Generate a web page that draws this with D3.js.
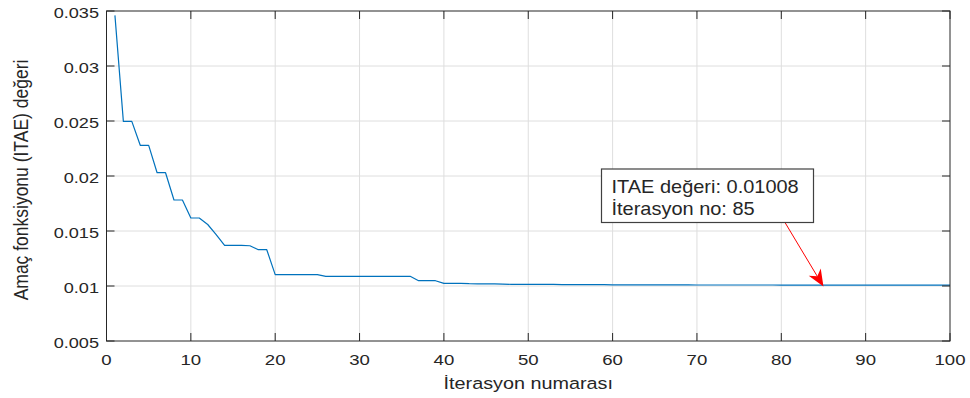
<!DOCTYPE html>
<html>
<head>
<meta charset="utf-8">
<script src="https://cdn.jsdelivr.net/npm/d3@7"></script>
<style>
  body { margin: 0; background: #fff; }
  svg text { font-family: "Liberation Sans", Arial, sans-serif; fill: #262626; }
</style>
</head>
<body>
<div id="chart"></div>
<script>
// chart data
var xTickValues = [0, 10, 20, 30, 40, 50, 60, 70, 80, 90, 100];
var yTickValues = [0.005, 0.01, 0.015, 0.02, 0.025, 0.03, 0.035];
var yTickLabels = ["0.005", "0.01", "0.015", "0.02", "0.025", "0.03", "0.035"];

// ITAE value per iteration, iteration 1 .. 100
var itaeValues = [
  0.0346, 0.02497, 0.02497, 0.02279, 0.02279, 0.0203, 0.0203, 0.01782, 0.01782, 0.01618,
  0.01618, 0.01559, 0.01468, 0.0137, 0.0137, 0.0137, 0.01366, 0.0133, 0.0133, 0.01103,
  0.01103, 0.01103, 0.01103, 0.01103, 0.01103, 0.01088, 0.01088, 0.01088, 0.01088, 0.01088,
  0.01088, 0.01088, 0.01088, 0.01088, 0.01088, 0.01088, 0.01048, 0.01048, 0.01048, 0.01024,
  0.01024, 0.01024, 0.01021, 0.0102, 0.0102, 0.01019, 0.01017, 0.01015, 0.01014, 0.01014,
  0.01014, 0.01014, 0.01014, 0.01012, 0.01012, 0.01012, 0.01012, 0.01012, 0.01012, 0.0101,
  0.0101, 0.0101, 0.0101, 0.0101, 0.0101, 0.0101, 0.0101, 0.0101, 0.0101, 0.01009,
  0.01009, 0.01009, 0.01009, 0.01009, 0.01009, 0.01009, 0.01009, 0.01009, 0.01009, 0.01008,
  0.01008, 0.01008, 0.01008, 0.01008, 0.01008, 0.01008, 0.01008, 0.01008, 0.01008, 0.01008,
  0.01008, 0.01008, 0.01008, 0.01008, 0.01008, 0.01008, 0.01008, 0.01008, 0.01008, 0.01008
];

var xLabel = "İterasyon numarası";
var yLabel = "Amaç fonksiyonu (ITAE) değeri";
var calloutLines = ["ITAE değeri: 0.01008", "İterasyon no: 85"];
var calloutIteration = 85;

// layout
var W = 970, H = 398;
var plot = { left: 106.5, right: 950, top: 11, bottom: 341 };
var box = { x: 601.5, y: 169, w: 212, h: 53.5 };
var tickLen = 8;
var lineColor = "#0072BD";
var axisColor = "#262626";
var gridColor = "#dedede";

var svg = d3.select("#chart").append("svg")
    .attr("width", W)
    .attr("height", H)
    .style("background-color", "white");

var x = d3.scaleLinear().domain([0, 100]).range([plot.left, plot.right]);
var y = d3.scaleLinear().domain([0.005, 0.035]).range([plot.bottom, plot.top]);

/** Adds a horizontally stretched text (the reference picture is wider than tall). */
function stretchedText(g, t, px, py, size, sx, anchor, rotate) {
    var tr = "translate(" + px + "," + py + ") scale(" + sx + ",1)";
    if (rotate) tr += " rotate(" + rotate + ")";
    return g.append("text")
        .attr("transform", tr)
        .attr("text-anchor", anchor)
        .style("font-size", size + "px")
        .text(t);
}

// grid
var grid = svg.append("g");
grid.selectAll(".gx").data(xTickValues.slice(1, -1)).enter().append("line")
    .attr("x1", function(d) { return x(d); })
    .attr("x2", function(d) { return x(d); })
    .attr("y1", plot.top)
    .attr("y2", plot.bottom)
    .attr("stroke", gridColor)
    .attr("stroke-width", 1);
grid.selectAll(".gy").data(yTickValues.slice(1, -1)).enter().append("line")
    .attr("x1", plot.left)
    .attr("x2", plot.right)
    .attr("y1", function(d) { return y(d); })
    .attr("y2", function(d) { return y(d); })
    .attr("stroke", gridColor)
    .attr("stroke-width", 1);

// data line
var line = d3.line()
    .x(function(d, i) { return x(i + 1); })
    .y(function(d) { return y(d); });
svg.append("path")
    .datum(itaeValues)
    .attr("d", line)
    .attr("fill", "none")
    .attr("stroke", lineColor)
    .attr("stroke-width", 1.2)
    .attr("stroke-linejoin", "round");

// axes box with inward ticks on all four sides
var axes = svg.append("g");
axes.append("rect")
    .attr("x", plot.left)
    .attr("y", plot.top)
    .attr("width", plot.right - plot.left)
    .attr("height", plot.bottom - plot.top)
    .attr("fill", "none")
    .attr("stroke", axisColor)
    .attr("stroke-width", 1);

xTickValues.forEach(function(v) {
    axes.append("line").attr("x1", x(v)).attr("x2", x(v))
        .attr("y1", plot.bottom).attr("y2", plot.bottom - tickLen)
        .attr("stroke", axisColor);
    axes.append("line").attr("x1", x(v)).attr("x2", x(v))
        .attr("y1", plot.top).attr("y2", plot.top + tickLen)
        .attr("stroke", axisColor);
    stretchedText(axes, String(v), x(v), 364.5, 15.5, 1.2, "middle");
});

yTickValues.forEach(function(v, i) {
    axes.append("line").attr("x1", plot.left).attr("x2", plot.left + tickLen)
        .attr("y1", y(v)).attr("y2", y(v))
        .attr("stroke", axisColor);
    axes.append("line").attr("x1", plot.right).attr("x2", plot.right - tickLen)
        .attr("y1", y(v)).attr("y2", y(v))
        .attr("stroke", axisColor);
    stretchedText(axes, yTickLabels[i], 99, y(v) + 7, 15.5, 1.17, "end");
});

// axis labels
stretchedText(svg, xLabel, (plot.left + plot.right) / 2, 388.5, 16.5, 1.2, "middle");
stretchedText(svg, yLabel, 28, (plot.top + plot.bottom) / 2 + 4, 17.5, 1.18, "middle", -90);

// callout with arrow
var tipX = x(calloutIteration), tipY = y(itaeValues[calloutIteration - 1]) + 1.5;
var tailX = 785, tailY = box.y + box.h;
var dx = tipX - tailX, dy = tipY - tailY;
var len = Math.sqrt(dx * dx + dy * dy);
var ux = dx / len, uy = dy / len;
var headLen = 17, headW = 7, headBack = 12;
var bx = tipX - ux * headLen, by = tipY - uy * headLen;

svg.append("line")
    .attr("x1", tailX).attr("y1", tailY)
    .attr("x2", tipX - ux * headBack).attr("y2", tipY - uy * headBack)
    .attr("stroke", "#ff0000")
    .attr("stroke-width", 1);
svg.append("path")
    .attr("d", "M" + tipX + "," + tipY +
        "L" + (bx - uy * headW) + "," + (by + ux * headW) +
        "L" + (tipX - ux * headBack) + "," + (tipY - uy * headBack) +
        "L" + (bx + uy * headW) + "," + (by - ux * headW) + "Z")
    .attr("fill", "#ff0000");

var callout = svg.append("g");
callout.append("rect")
    .attr("x", box.x)
    .attr("y", box.y)
    .attr("width", box.w)
    .attr("height", box.h)
    .attr("fill", "white")
    .attr("stroke", "#404040")
    .attr("stroke-width", 1.2);
calloutLines.forEach(function(t, i) {
    stretchedText(callout, t, box.x + 10, box.y + 23.5 + i * 22.5, 18, 1.11, "start");
});
</script>
</body>
</html>
